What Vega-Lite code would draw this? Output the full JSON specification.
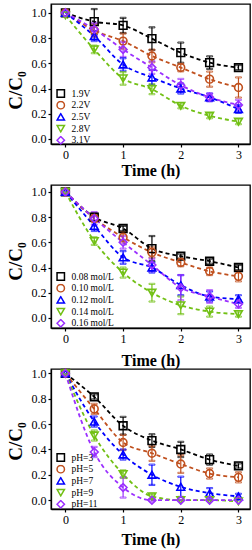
{
  "$schema": "https://vega.github.io/schema/vega-lite/v6.json",
  "padding": {"left": 5, "top": 3, "right": 5, "bottom": 5},
  "background": "white",
  "config": {
    "font": "Liberation Serif, DejaVu Serif, serif",
    "view": {"stroke": "black", "strokeWidth": 1.3},
    "axis": {
      "labelFont": "Liberation Serif, DejaVu Serif, serif", "labelFontSize": 12, "labelColor": "black",
      "titleFont": "Liberation Serif, DejaVu Serif, serif", "titleFontWeight": "bold", "titleColor": "black",
      "domainColor": "black", "domainWidth": 1.3, "tickColor": "black", "tickWidth": 1.2,
      "grid": false, "tickSize": 3, "labelPadding": 2
    },
    "legend": {"labelFont": "Liberation Serif, DejaVu Serif, serif", "labelColor": "black"},
    "text": {"font": "Liberation Serif, DejaVu Serif, serif"}
  },
  "datasets": {
    "a": [
      {"s": "1.9V", "t": 0, "v": 1.0, "e": 0},
      {"s": "1.9V", "t": 0.5, "v": 0.93, "e": 0.1},
      {"s": "1.9V", "t": 1, "v": 0.9, "e": 0.06},
      {"s": "1.9V", "t": 1.5, "v": 0.795, "e": 0.09},
      {"s": "1.9V", "t": 2, "v": 0.684, "e": 0.08},
      {"s": "1.9V", "t": 2.5, "v": 0.605, "e": 0.05},
      {"s": "1.9V", "t": 3, "v": 0.566, "e": 0.02},
      {"s": "2.2V", "t": 0, "v": 1.0, "e": 0},
      {"s": "2.2V", "t": 0.5, "v": 0.86, "e": 0.05},
      {"s": "2.2V", "t": 1, "v": 0.776, "e": 0.06},
      {"s": "2.2V", "t": 1.5, "v": 0.658, "e": 0.05},
      {"s": "2.2V", "t": 2, "v": 0.566, "e": 0.03},
      {"s": "2.2V", "t": 2.5, "v": 0.474, "e": 0.06},
      {"s": "2.2V", "t": 3, "v": 0.408, "e": 0.08},
      {"s": "2.5V", "t": 0, "v": 1.0, "e": 0},
      {"s": "2.5V", "t": 0.5, "v": 0.816, "e": 0.04},
      {"s": "2.5V", "t": 1, "v": 0.59, "e": 0.05},
      {"s": "2.5V", "t": 1.5, "v": 0.487, "e": 0.06},
      {"s": "2.5V", "t": 2, "v": 0.4, "e": 0.04},
      {"s": "2.5V", "t": 2.5, "v": 0.33, "e": 0.03},
      {"s": "2.5V", "t": 3, "v": 0.237, "e": 0.03},
      {"s": "2.8V", "t": 0, "v": 0.98, "e": 0},
      {"s": "2.8V", "t": 0.5, "v": 0.71, "e": 0.03},
      {"s": "2.8V", "t": 1, "v": 0.48, "e": 0.05},
      {"s": "2.8V", "t": 1.5, "v": 0.395, "e": 0.04},
      {"s": "2.8V", "t": 2, "v": 0.263, "e": 0.02},
      {"s": "2.8V", "t": 2.5, "v": 0.184, "e": 0.02},
      {"s": "2.8V", "t": 3, "v": 0.137, "e": 0.02},
      {"s": "3.1V", "t": 0, "v": 1.0, "e": 0},
      {"s": "3.1V", "t": 0.5, "v": 0.87, "e": 0.05},
      {"s": "3.1V", "t": 1, "v": 0.71, "e": 0.06},
      {"s": "3.1V", "t": 1.5, "v": 0.566, "e": 0.05},
      {"s": "3.1V", "t": 2, "v": 0.426, "e": 0.05},
      {"s": "3.1V", "t": 2.5, "v": 0.33, "e": 0.03},
      {"s": "3.1V", "t": 3, "v": 0.27, "e": 0.04}
    ],
    "b": [
      {"s": "0.08 mol/L", "t": 0, "v": 1.0, "e": 0},
      {"s": "0.08 mol/L", "t": 0.5, "v": 0.8, "e": 0.03},
      {"s": "0.08 mol/L", "t": 1, "v": 0.71, "e": 0.02},
      {"s": "0.08 mol/L", "t": 1.5, "v": 0.55, "e": 0.1},
      {"s": "0.08 mol/L", "t": 2, "v": 0.49, "e": 0.02},
      {"s": "0.08 mol/L", "t": 2.5, "v": 0.45, "e": 0.02},
      {"s": "0.08 mol/L", "t": 3, "v": 0.4, "e": 0.02},
      {"s": "0.10 mol/L", "t": 0, "v": 1.0, "e": 0},
      {"s": "0.10 mol/L", "t": 0.5, "v": 0.79, "e": 0.03},
      {"s": "0.10 mol/L", "t": 1, "v": 0.64, "e": 0.04},
      {"s": "0.10 mol/L", "t": 1.5, "v": 0.52, "e": 0.04},
      {"s": "0.10 mol/L", "t": 2, "v": 0.44, "e": 0.03},
      {"s": "0.10 mol/L", "t": 2.5, "v": 0.37, "e": 0.03},
      {"s": "0.10 mol/L", "t": 3, "v": 0.33, "e": 0.04},
      {"s": "0.12 mol/L", "t": 0, "v": 1.0, "e": 0},
      {"s": "0.12 mol/L", "t": 0.5, "v": 0.73, "e": 0.04},
      {"s": "0.12 mol/L", "t": 1, "v": 0.48, "e": 0.05},
      {"s": "0.12 mol/L", "t": 1.5, "v": 0.4, "e": 0.04},
      {"s": "0.12 mol/L", "t": 2, "v": 0.26, "e": 0.08},
      {"s": "0.12 mol/L", "t": 2.5, "v": 0.17, "e": 0.04},
      {"s": "0.12 mol/L", "t": 3, "v": 0.15, "e": 0.03},
      {"s": "0.14 mol/L", "t": 0, "v": 1.0, "e": 0},
      {"s": "0.14 mol/L", "t": 0.5, "v": 0.61, "e": 0.03},
      {"s": "0.14 mol/L", "t": 1, "v": 0.36, "e": 0.04},
      {"s": "0.14 mol/L", "t": 1.5, "v": 0.2, "e": 0.07},
      {"s": "0.14 mol/L", "t": 2, "v": 0.1, "e": 0.07},
      {"s": "0.14 mol/L", "t": 2.5, "v": 0.05, "e": 0.04},
      {"s": "0.14 mol/L", "t": 3, "v": 0.03, "e": 0.02},
      {"s": "0.16 mol/L", "t": 0, "v": 1.0, "e": 0},
      {"s": "0.16 mol/L", "t": 0.5, "v": 0.79, "e": 0.05},
      {"s": "0.16 mol/L", "t": 1, "v": 0.6, "e": 0.05},
      {"s": "0.16 mol/L", "t": 1.5, "v": 0.42, "e": 0.05},
      {"s": "0.16 mol/L", "t": 2, "v": 0.24, "e": 0.1},
      {"s": "0.16 mol/L", "t": 2.5, "v": 0.17, "e": 0.05},
      {"s": "0.16 mol/L", "t": 3, "v": 0.11, "e": 0.03}
    ],
    "c": [
      {"s": "pH=3", "t": 0, "v": 1.0, "e": 0},
      {"s": "pH=3", "t": 0.5, "v": 0.815, "e": 0.02},
      {"s": "pH=3", "t": 1, "v": 0.587, "e": 0.07},
      {"s": "pH=3", "t": 1.5, "v": 0.47, "e": 0.05},
      {"s": "pH=3", "t": 2, "v": 0.4, "e": 0.06},
      {"s": "pH=3", "t": 2.5, "v": 0.32, "e": 0.04},
      {"s": "pH=3", "t": 3, "v": 0.27, "e": 0.02},
      {"s": "pH=5", "t": 0, "v": 1.0, "e": 0},
      {"s": "pH=5", "t": 0.5, "v": 0.72, "e": 0.04},
      {"s": "pH=5", "t": 1, "v": 0.455, "e": 0.06},
      {"s": "pH=5", "t": 1.5, "v": 0.37, "e": 0.06},
      {"s": "pH=5", "t": 2, "v": 0.285, "e": 0.07},
      {"s": "pH=5", "t": 2.5, "v": 0.21, "e": 0.04},
      {"s": "pH=5", "t": 3, "v": 0.18, "e": 0.04},
      {"s": "pH=7", "t": 0, "v": 1.0, "e": 0},
      {"s": "pH=7", "t": 0.5, "v": 0.62, "e": 0.04},
      {"s": "pH=7", "t": 1, "v": 0.36, "e": 0.04},
      {"s": "pH=7", "t": 1.5, "v": 0.2, "e": 0.08},
      {"s": "pH=7", "t": 2, "v": 0.105, "e": 0.08},
      {"s": "pH=7", "t": 2.5, "v": 0.055, "e": 0.04},
      {"s": "pH=7", "t": 3, "v": 0.03, "e": 0.02},
      {"s": "pH=9", "t": 0, "v": 1.0, "e": 0},
      {"s": "pH=9", "t": 0.5, "v": 0.51, "e": 0.04},
      {"s": "pH=9", "t": 1, "v": 0.205, "e": 0.03},
      {"s": "pH=9", "t": 1.5, "v": 0.03, "e": 0.02},
      {"s": "pH=9", "t": 2, "v": 0.0, "e": 0},
      {"s": "pH=9", "t": 2.5, "v": 0.0, "e": 0},
      {"s": "pH=9", "t": 3, "v": -0.01, "e": 0},
      {"s": "pH=11", "t": 0, "v": 1.0, "e": 0},
      {"s": "pH=11", "t": 0.5, "v": 0.38, "e": 0.04},
      {"s": "pH=11", "t": 1, "v": 0.1, "e": 0.08},
      {"s": "pH=11", "t": 1.5, "v": 0.0, "e": 0.01},
      {"s": "pH=11", "t": 2, "v": 0.0, "e": 0},
      {"s": "pH=11", "t": 2.5, "v": 0.0, "e": 0},
      {"s": "pH=11", "t": 3, "v": 0.0, "e": 0}
    ]
  },
  "resolve": {
    "scale": {"color": "independent", "shape": "independent", "stroke": "independent", "x": "independent", "y": "independent"},
    "legend": {"color": "independent", "shape": "independent"}
  },
  "bounds": "flush",
  "spacing": 41,
  "vconcat": [
    {
      "width": 199, "height": 140,
      "data": {"name": "a"},
      "encoding": {
        "x": {"field": "t", "type": "quantitative", "scale": {"domain": [-0.25, 3.2], "nice": false, "zero": false},
              "axis": {"title": "Time (h)", "titleFontSize": 16, "titlePadding": 2, "values": [0, 0.5, 1, 1.5, 2, 2.5, 3], "format": "d", "labelExpr": "datum.value % 1 === 0 ? datum.label : ''", "tickSize": {"condition": {"test": "datum.value % 1 === 0", "value": 3}, "value": 2}}},
        "y": {"field": "v", "type": "quantitative", "scale": {"domain": [-0.04, 1.07], "nice": false, "zero": false},
              "axis": {"title": "C/C₀", "titleFontSize": 19, "values": [0, 0.2, 0.4, 0.6, 0.8, 1.0], "format": ".1f", "titleX": -26, "titleY": 86}}
      },
      "layer": [
        {
          "mark": {"type": "line", "strokeDash": [4, 3], "strokeWidth": 1.8, "interpolate": "monotone"},
          "encoding": {"color": {"field": "s", "type": "nominal", "scale": {"domain": ["1.9V", "2.2V", "2.5V", "2.8V", "3.1V"], "range": ["#000000", "#c0501e", "#0000ff", "#72c015", "#9b30ff"]},
                  "legend": {"orient": "none", "legendX": 5, "legendY": 85, "title": null, "labelFontSize": 9.5, "symbolSize": 55, "symbolStrokeWidth": 1.5, "clipHeight": 9, "rowPadding": 1.7, "padding": 0, "labelOffset": 6}}}
        },
        {
          "transform": [{"filter": "datum.e > 0"}],
          "mark": {"type": "errorbar", "ticks": {"filled": false, "strokeWidth": 1}, "size": 6, "thickness": 1.2},
          "encoding": {"yError": {"field": "e"},
                       "stroke": {"field": "s", "type": "nominal", "scale": {"domain": ["1.9V", "2.2V", "2.5V", "2.8V", "3.1V"], "range": ["#000000", "#c0501e", "#0000ff", "#72c015", "#9b30ff"]}, "legend": null}}
        },
        {
          "mark": {"type": "point", "filled": false, "size": 60, "strokeWidth": 1.6, "opacity": 1},
          "encoding": {
            "color": {"field": "s", "type": "nominal"},
            "shape": {"field": "s", "type": "nominal", "scale": {"domain": ["1.9V", "2.2V", "2.5V", "2.8V", "3.1V"], "range": ["square", "circle", "triangle-up", "triangle-down", "diamond"]},
                      "legend": {"orient": "none", "legendX": 5, "legendY": 85, "title": null, "labelFontSize": 9.5, "symbolSize": 55, "symbolStrokeWidth": 1.5, "clipHeight": 9, "rowPadding": 1.7, "padding": 0, "labelOffset": 6}}
          }
        },
        {
          "data": {"values": [{"p": "(a)"}]},
          "mark": {"type": "text", "fontSize": 24, "fontWeight": "bold", "align": "center", "baseline": "alphabetic", "color": "black"},
          "encoding": {"text": {"field": "p"}, "x": {"datum": 2.88}, "y": {"datum": 0.865}}
        }
      ]
    },
    {
      "width": 199, "height": 143,
      "data": {"name": "b"},
      "encoding": {
        "x": {"field": "t", "type": "quantitative", "scale": {"domain": [-0.25, 3.2], "nice": false, "zero": false},
              "axis": {"title": "Time (h)", "titleFontSize": 16, "titlePadding": 8, "values": [0, 0.5, 1, 1.5, 2, 2.5, 3], "format": "d", "labelExpr": "datum.value % 1 === 0 ? datum.label : ''", "tickSize": {"condition": {"test": "datum.value % 1 === 0", "value": 3}, "value": 2}}},
        "y": {"field": "v", "type": "quantitative", "scale": {"domain": [-0.08, 1.055], "nice": false, "zero": false},
              "axis": {"title": "C/C₀", "titleFontSize": 19, "values": [0, 0.2, 0.4, 0.6, 0.8, 1.0], "format": ".1f", "titleX": -26, "titleY": 76}}
      },
      "layer": [
        {
          "mark": {"type": "line", "strokeDash": [4, 3], "strokeWidth": 1.8, "interpolate": "monotone"},
          "encoding": {"color": {"field": "s", "type": "nominal", "scale": {"domain": ["0.08 mol/L", "0.10 mol/L", "0.12 mol/L", "0.14 mol/L", "0.16 mol/L"], "range": ["#000000", "#c0501e", "#0000ff", "#72c015", "#9b30ff"]},
                  "legend": {"orient": "none", "legendX": 5, "legendY": 87, "title": null, "labelFontSize": 9.5, "symbolSize": 55, "symbolStrokeWidth": 1.5, "clipHeight": 9, "rowPadding": 1.7, "padding": 0, "labelOffset": 6}}}
        },
        {
          "transform": [{"filter": "datum.e > 0"}],
          "mark": {"type": "errorbar", "ticks": {"filled": false, "strokeWidth": 1}, "size": 6, "thickness": 1.2},
          "encoding": {"yError": {"field": "e"},
                       "stroke": {"field": "s", "type": "nominal", "scale": {"domain": ["0.08 mol/L", "0.10 mol/L", "0.12 mol/L", "0.14 mol/L", "0.16 mol/L"], "range": ["#000000", "#c0501e", "#0000ff", "#72c015", "#9b30ff"]}, "legend": null}}
        },
        {
          "mark": {"type": "point", "filled": false, "size": 60, "strokeWidth": 1.6, "opacity": 1},
          "encoding": {
            "color": {"field": "s", "type": "nominal"},
            "shape": {"field": "s", "type": "nominal", "scale": {"domain": ["0.08 mol/L", "0.10 mol/L", "0.12 mol/L", "0.14 mol/L", "0.16 mol/L"], "range": ["square", "circle", "triangle-up", "triangle-down", "diamond"]},
                      "legend": {"orient": "none", "legendX": 5, "legendY": 87, "title": null, "labelFontSize": 9.5, "symbolSize": 55, "symbolStrokeWidth": 1.5, "clipHeight": 9, "rowPadding": 1.7, "padding": 0, "labelOffset": 6}}
          }
        },
        {
          "data": {"values": [{"p": "(b)"}]},
          "mark": {"type": "text", "fontSize": 24, "fontWeight": "bold", "align": "center", "baseline": "alphabetic", "color": "black"},
          "encoding": {"text": {"field": "p"}, "x": {"datum": 2.89}, "y": {"datum": 0.85}}
        }
      ]
    },
    {
      "width": 199, "height": 140,
      "data": {"name": "c"},
      "encoding": {
        "x": {"field": "t", "type": "quantitative", "scale": {"domain": [-0.25, 3.2], "nice": false, "zero": false},
              "axis": {"title": "Time (h)", "titleFontSize": 16, "titlePadding": 6, "values": [0, 0.5, 1, 1.5, 2, 2.5, 3], "format": "d", "labelExpr": "datum.value % 1 === 0 ? datum.label : ''", "tickSize": {"condition": {"test": "datum.value % 1 === 0", "value": 3}, "value": 2}}},
        "y": {"field": "v", "type": "quantitative", "scale": {"domain": [-0.07, 1.035], "nice": false, "zero": false},
              "axis": {"title": "C/C₀", "titleFontSize": 19, "values": [0, 0.2, 0.4, 0.6, 0.8, 1.0], "format": ".1f", "titleX": -26, "titleY": 72}}
      },
      "layer": [
        {
          "mark": {"type": "line", "strokeDash": [4, 3], "strokeWidth": 1.8, "interpolate": "monotone"},
          "encoding": {"color": {"field": "s", "type": "nominal", "scale": {"domain": ["pH=3", "pH=5", "pH=7", "pH=9", "pH=11"], "range": ["#000000", "#c0501e", "#0000ff", "#72c015", "#9b30ff"]},
                  "legend": {"orient": "none", "legendX": 5, "legendY": 84, "title": null, "labelFontSize": 9.5, "symbolSize": 55, "symbolStrokeWidth": 1.5, "clipHeight": 9, "rowPadding": 1.7, "padding": 0, "labelOffset": 6}}}
        },
        {
          "transform": [{"filter": "datum.e > 0"}],
          "mark": {"type": "errorbar", "ticks": {"filled": false, "strokeWidth": 1}, "size": 6, "thickness": 1.2},
          "encoding": {"yError": {"field": "e"},
                       "stroke": {"field": "s", "type": "nominal", "scale": {"domain": ["pH=3", "pH=5", "pH=7", "pH=9", "pH=11"], "range": ["#000000", "#c0501e", "#0000ff", "#72c015", "#9b30ff"]}, "legend": null}}
        },
        {
          "mark": {"type": "point", "filled": false, "size": 60, "strokeWidth": 1.6, "opacity": 1},
          "encoding": {
            "color": {"field": "s", "type": "nominal"},
            "shape": {"field": "s", "type": "nominal", "scale": {"domain": ["pH=3", "pH=5", "pH=7", "pH=9", "pH=11"], "range": ["square", "circle", "triangle-up", "triangle-down", "diamond"]},
                      "legend": {"orient": "none", "legendX": 5, "legendY": 84, "title": null, "labelFontSize": 9.5, "symbolSize": 55, "symbolStrokeWidth": 1.5, "clipHeight": 9, "rowPadding": 1.7, "padding": 0, "labelOffset": 6}}
          }
        },
        {
          "data": {"values": [{"p": "(c)"}]},
          "mark": {"type": "text", "fontSize": 24, "fontWeight": "bold", "align": "center", "baseline": "alphabetic", "color": "black"},
          "encoding": {"text": {"field": "p"}, "x": {"datum": 2.88}, "y": {"datum": 0.853}}
        }
      ]
    }
  ]
}
